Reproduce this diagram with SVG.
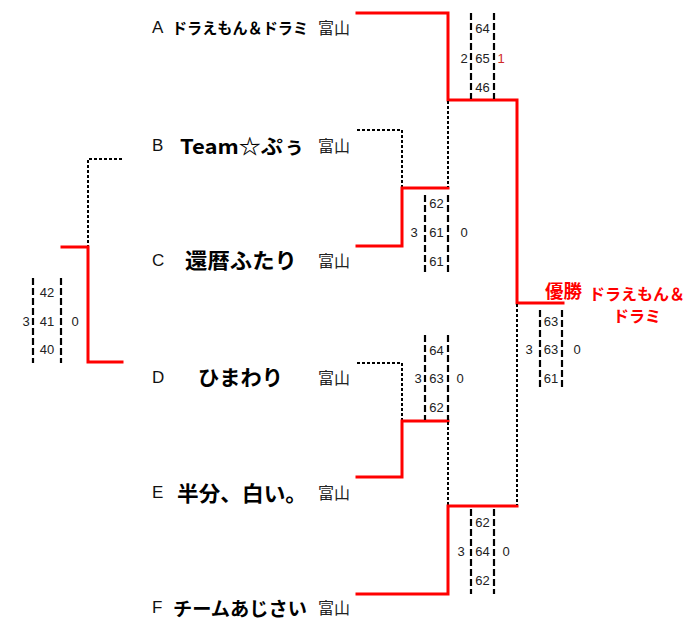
<svg xmlns="http://www.w3.org/2000/svg" width="689" height="621" viewBox="0 0 689 621">
<style>
.red{fill:none;stroke:#ff0000;stroke-width:3;stroke-linecap:square}
.dot{fill:none;stroke:#000;stroke-width:2;stroke-dasharray:3 2}
.box{fill:none;stroke:#000;stroke-width:2.2;stroke-dasharray:7 3}
.letter{font-family:"Liberation Sans",Arial,sans-serif;font-size:17px;fill:#111;dominant-baseline:central}
.name{font-family:"Noto Sans CJK JP","Noto Sans",sans-serif;font-weight:bold;fill:#000;dominant-baseline:central}
.pref{font-family:"Noto Sans CJK JP",sans-serif;font-size:16px;fill:#222;dominant-baseline:central}
.num{font-family:"Liberation Sans",Arial,sans-serif;font-size:13px;fill:#222;text-anchor:middle;dominant-baseline:central}
.win{font-family:"Noto Sans CJK JP",sans-serif;font-weight:bold;fill:#ff0000;dominant-baseline:central}
</style>
<rect width="689" height="621" fill="#fff"/>
<g id="connectors">
<polyline class="red" points="357,13 448,13 448,100 517,100 517,303 563,303"/>
<polyline class="dot" points="357,130 402,130 402,188"/>
<polyline class="red" points="357,246 402,246 402,188 448,188"/>
<line class="dot" x1="448" y1="101" x2="448" y2="187"/>
<polyline class="dot" points="357,363 402,363 402,420"/>
<polyline class="red" points="357,477 402,477 402,421 448,421"/>
<line class="dot" x1="448" y1="422" x2="448" y2="505"/>
<polyline class="red" points="357,594 448,594 448,506 517,506"/>
<line class="dot" x1="517" y1="304" x2="517" y2="505"/>
<polyline class="dot" points="122,159 88,159 88,246"/>
<polyline class="red" points="62,247 88,247 88,362 122,362"/>
</g>
<g id="team-A"><text class="letter" x="152" y="27">A</text><text class="name" x="172" y="27" font-size="15.5" textLength="136" lengthAdjust="spacingAndGlyphs">ドラえもん＆ドラミ</text><text class="pref" x="318" y="27">富山</text></g>
<g id="team-B"><text class="letter" x="152" y="145">B</text><text class="name" x="180" y="145" font-size="20" textLength="125" lengthAdjust="spacingAndGlyphs">Team☆ぷぅ</text><text class="pref" x="318" y="145">富山</text></g>
<g id="team-C"><text class="letter" x="152" y="260">C</text><text class="name" x="185" y="259" font-size="21" textLength="112" lengthAdjust="spacingAndGlyphs">還暦ふたり</text><text class="pref" x="318" y="260">富山</text></g>
<g id="team-D"><text class="letter" x="152" y="377">D</text><text class="name" x="198" y="376" font-size="21" textLength="85" lengthAdjust="spacingAndGlyphs">ひまわり</text><text class="pref" x="318" y="377">富山</text></g>
<g id="team-E"><text class="letter" x="152" y="492">E</text><text class="name" x="177" y="492" font-size="21" textLength="130" lengthAdjust="spacingAndGlyphs">半分、白い。</text><text class="pref" x="318" y="492">富山</text></g>
<g id="team-F"><text class="letter" x="152" y="607">F</text><text class="name" x="173" y="607" font-size="19" textLength="134" lengthAdjust="spacingAndGlyphs">チームあじさい</text><text class="pref" x="318" y="607">富山</text></g>
<g id="score-AB">
<line class="box" x1="471" y1="13" x2="471" y2="99"/><line class="box" x1="494" y1="13" x2="494" y2="99"/>
<text class="num" x="482.5" y="28">64</text><text class="num" x="482.5" y="58">65</text><text class="num" x="482.5" y="87">46</text>
<text class="num" x="464" y="58">2</text><text class="num" x="501" y="58" style="fill:#d02828">1</text>
</g>
<g id="score-BC">
<line class="box" x1="425" y1="195" x2="425" y2="275"/><line class="box" x1="448" y1="195" x2="448" y2="275"/>
<text class="num" x="436.5" y="203">62</text><text class="num" x="436.5" y="232">61</text><text class="num" x="436.5" y="261">61</text>
<text class="num" x="414" y="232">3</text><text class="num" x="464" y="232">0</text>
</g>
<g id="score-left">
<line class="box" x1="33" y1="278" x2="33" y2="363"/><line class="box" x1="61" y1="278" x2="61" y2="363"/>
<text class="num" x="47" y="292">42</text><text class="num" x="47" y="321">41</text><text class="num" x="47" y="349">40</text>
<text class="num" x="26" y="321">3</text><text class="num" x="75" y="321">0</text>
</g>
<g id="score-DE">
<line class="box" x1="425" y1="335" x2="425" y2="420"/><line class="box" x1="448" y1="335" x2="448" y2="420"/>
<text class="num" x="436.5" y="350">64</text><text class="num" x="436.5" y="378">63</text><text class="num" x="436.5" y="407">62</text>
<text class="num" x="418" y="378">3</text><text class="num" x="460" y="378">0</text>
</g>
<g id="score-final">
<line class="box" x1="540" y1="310" x2="540" y2="390"/><line class="box" x1="562" y1="310" x2="562" y2="390"/>
<text class="num" x="551" y="321">63</text><text class="num" x="551" y="349">63</text><text class="num" x="551" y="378">61</text>
<text class="num" x="529" y="349">3</text><text class="num" x="577" y="349">0</text>
</g>
<g id="score-F">
<line class="box" x1="471" y1="509" x2="471" y2="594"/><line class="box" x1="494" y1="509" x2="494" y2="594"/>
<text class="num" x="482.5" y="522">62</text><text class="num" x="482.5" y="551">64</text><text class="num" x="482.5" y="580">62</text>
<text class="num" x="461" y="551">3</text><text class="num" x="506" y="551">0</text>
</g>
<g id="winner">
<text class="win" x="545" y="290" font-size="18" textLength="37" lengthAdjust="spacingAndGlyphs">優勝</text>
<text class="win" x="637" y="293" font-size="16" text-anchor="middle">ドラえもん＆</text>
<text class="win" x="637" y="315" font-size="16" text-anchor="middle">ドラミ</text>
</g>
</svg>
